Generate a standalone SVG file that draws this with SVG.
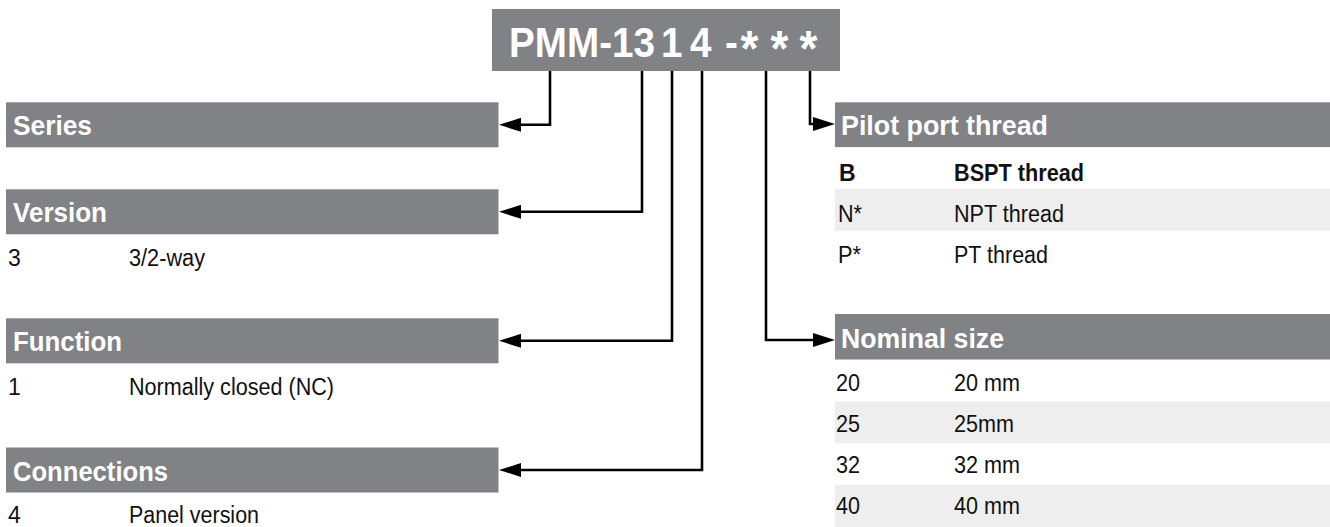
<svg xmlns="http://www.w3.org/2000/svg" width="1330" height="527" viewBox="0 0 1330 527">
<style>
.hdr{fill:#818286}
.alt{fill:#eeeeee}
.ht{font-family:"Liberation Sans",Arial,sans-serif;font-weight:bold;font-size:28px;fill:#ffffff}
.rt{font-family:"Liberation Sans",Arial,sans-serif;font-size:23px;fill:#111111}
.rb{font-family:"Liberation Sans",Arial,sans-serif;font-size:23px;font-weight:bold;fill:#111111}
.tt{font-family:"Liberation Sans",Arial,sans-serif;font-weight:bold;font-size:42px;fill:#ffffff}
.st{font-size:50px}
.conn{fill:none;stroke:#000000;stroke-width:2.6;marker-end:url(#ah)}
</style>
<defs>
<marker id="ah" markerUnits="userSpaceOnUse" viewBox="0 0 22 14" markerWidth="22" markerHeight="14" refX="12" refY="7" orient="auto"><path d="M0,0L22,7L0,14z" fill="#000000"/></marker>
</defs>
<rect width="1330" height="527" fill="#ffffff"/>

<g id="title">
<rect class="hdr" x="492" y="9" width="348" height="62"/>
<text class="tt" transform="scale(0.92,1)" y="57"><tspan x="553.3">PMM-13</tspan><tspan x="718.5">1</tspan><tspan x="750">4</tspan><tspan x="788">-</tspan><tspan class="st" x="805" y="66">*</tspan><tspan class="st" x="837.5" y="66">*</tspan><tspan class="st" x="869" y="66">*</tspan></text>
</g>

<g id="series">
<rect class="hdr" x="6" y="102.3" width="492.5" height="45"/>
<text class="ht" x="13" y="135" textLength="79" lengthAdjust="spacingAndGlyphs">Series</text>
</g>

<g id="version">
<rect class="hdr" x="6" y="189.3" width="492.5" height="45"/>
<text class="ht" x="13" y="222" textLength="94" lengthAdjust="spacingAndGlyphs">Version</text>
<text class="rt" x="8" y="266">3</text>
<text class="rt" x="129" y="266" textLength="76" lengthAdjust="spacingAndGlyphs">3/2-way</text>
</g>

<g id="function">
<rect class="hdr" x="6" y="318.3" width="492.5" height="45"/>
<text class="ht" x="13" y="351" textLength="109" lengthAdjust="spacingAndGlyphs">Function</text>
<text class="rt" x="8" y="395">1</text>
<text class="rt" x="129" y="395" textLength="205" lengthAdjust="spacingAndGlyphs">Normally closed (NC)</text>
</g>

<g id="connections">
<rect class="hdr" x="6" y="447.5" width="492.5" height="45"/>
<text class="ht" x="13" y="480.5" textLength="155" lengthAdjust="spacingAndGlyphs">Connections</text>
<text class="rt" x="8" y="523">4</text>
<text class="rt" x="129" y="523" textLength="130" lengthAdjust="spacingAndGlyphs">Panel version</text>
</g>

<g id="pilot-port-thread">
<rect class="hdr" x="835" y="102.3" width="495" height="45"/>
<rect fill="#ffffff" x="835" y="147.3" width="495" height="41.7"/>
<rect class="alt" x="835" y="189" width="495" height="41.7"/>
<text class="ht" x="841" y="135" textLength="207" lengthAdjust="spacingAndGlyphs">Pilot port thread</text>
<text class="rb" x="839" y="180.7">B</text>
<text class="rb" x="954" y="180.7" textLength="130" lengthAdjust="spacingAndGlyphs">BSPT thread</text>
<text class="rt" x="838" y="221.7" textLength="24" lengthAdjust="spacingAndGlyphs">N*</text>
<text class="rt" x="954" y="221.7" textLength="110" lengthAdjust="spacingAndGlyphs">NPT thread</text>
<text class="rt" x="838" y="263.3" textLength="23" lengthAdjust="spacingAndGlyphs">P*</text>
<text class="rt" x="954" y="263.3" textLength="94" lengthAdjust="spacingAndGlyphs">PT thread</text>
</g>

<g id="nominal-size">
<rect class="hdr" x="835" y="314" width="495" height="45.5"/>
<rect class="alt" x="835" y="401.5" width="495" height="41.7"/>
<rect class="alt" x="835" y="485" width="495" height="42"/>
<text class="ht" x="841" y="347.5" textLength="163" lengthAdjust="spacingAndGlyphs">Nominal size</text>
<text class="rt" x="836" y="391" textLength="24" lengthAdjust="spacingAndGlyphs">20</text>
<text class="rt" x="954" y="391" textLength="66" lengthAdjust="spacingAndGlyphs">20 mm</text>
<text class="rt" x="836" y="432" textLength="24" lengthAdjust="spacingAndGlyphs">25</text>
<text class="rt" x="954" y="432" textLength="60" lengthAdjust="spacingAndGlyphs">25mm</text>
<text class="rt" x="836" y="473" textLength="24" lengthAdjust="spacingAndGlyphs">32</text>
<text class="rt" x="954" y="473" textLength="66" lengthAdjust="spacingAndGlyphs">32 mm</text>
<text class="rt" x="836" y="514" textLength="24" lengthAdjust="spacingAndGlyphs">40</text>
<text class="rt" x="954" y="514" textLength="66" lengthAdjust="spacingAndGlyphs">40 mm</text>
</g>

<g id="connectors">
<path class="conn" d="M550,71V124.8H509"/>
<path class="conn" d="M642,71V211.8H509"/>
<path class="conn" d="M672,71V340.8H509"/>
<path class="conn" d="M702,71V470H509"/>
<path class="conn" d="M766,71V340H825"/>
<path class="conn" d="M810,71V124H825"/>
</g>
</svg>
